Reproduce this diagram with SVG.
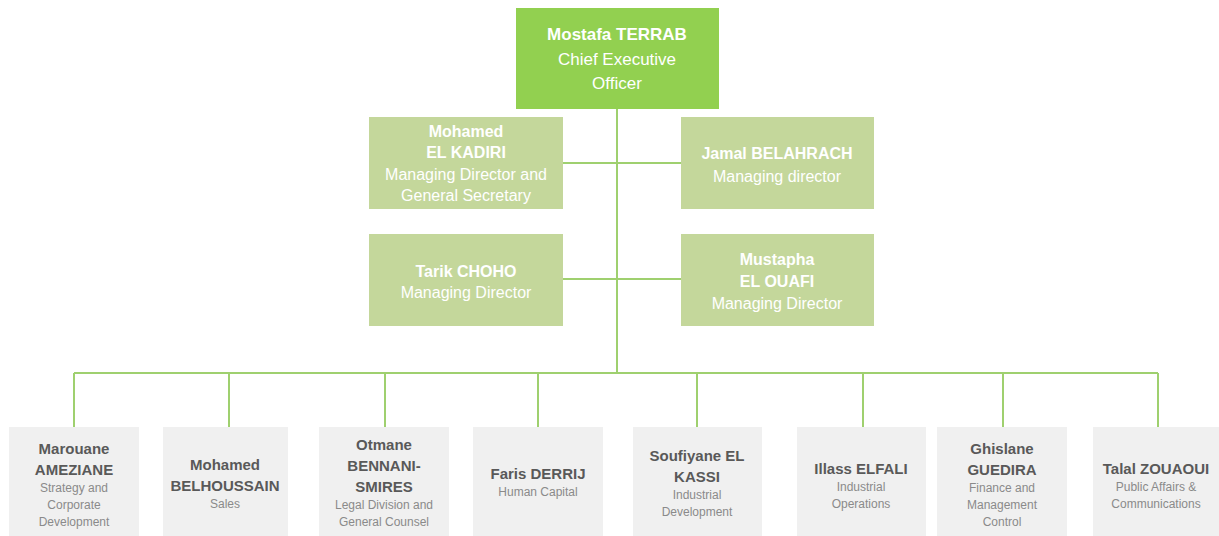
<svg xmlns="http://www.w3.org/2000/svg" width="1219" height="536" viewBox="0 0 1219 536">
<style>
.ceo{fill:#92d050}
.md{fill:#c4d79b}
.dep{fill:#f0f0f0}
text{font-family:"Liberation Sans",Arial,sans-serif;text-anchor:middle}
.w{fill:#ffffff}
.wb{fill:#ffffff;font-weight:bold}
.n{fill:#595959;font-weight:bold;font-size:15px}
.r{fill:#8a8a8a;font-size:12px}
.conn{stroke:#9fd06f;stroke-width:2;fill:none}
</style>
<rect width="1219" height="536" fill="#ffffff"/>
<g id="connectors">
<path class="conn" d="M617 109V373"/>
<path class="conn" d="M563 163H681"/>
<path class="conn" d="M563 279H681"/>
<path class="conn" d="M74 373H1158"/>
<path class="conn" d="M74 373V427M229 373V427M385 373V427M538 373V427M697 373V427M863 373V427M1003 373V427M1158 373V427"/>
</g>
<g id="ceo">
<rect class="ceo" x="516" y="8" width="203" height="101"/>
<text class="wb" x="617" y="40" font-size="17">Mostafa TERRAB</text>
<text class="w" x="617" y="65" font-size="17">Chief Executive</text>
<text class="w" x="617" y="89" font-size="17">Officer</text>
</g>
<g id="md-elkadiri">
<rect class="md" x="369" y="117" width="194" height="92"/>
<text class="wb" x="466" y="137" font-size="16">Mohamed</text>
<text class="wb" x="466" y="158" font-size="16">EL KADIRI</text>
<text class="w" x="466" y="180" font-size="16">Managing Director and</text>
<text class="w" x="466" y="201" font-size="16">General Secretary</text>
</g>
<g id="md-belahrach">
<rect class="md" x="681" y="117" width="193" height="92"/>
<text class="wb" x="777" y="159" font-size="16">Jamal BELAHRACH</text>
<text class="w" x="777" y="182" font-size="16">Managing director</text>
</g>
<g id="md-choho">
<rect class="md" x="369" y="234" width="194" height="92"/>
<text class="wb" x="466" y="277" font-size="16">Tarik CHOHO</text>
<text class="w" x="466" y="298" font-size="16">Managing Director</text>
</g>
<g id="md-elouafi">
<rect class="md" x="681" y="234" width="193" height="92"/>
<text class="wb" x="777" y="265" font-size="16">Mustapha</text>
<text class="wb" x="777" y="287" font-size="16">EL OUAFI</text>
<text class="w" x="777" y="309" font-size="16">Managing Director</text>
</g>
<g id="amezziane">
<rect class="dep" x="9" y="427" width="130" height="110"/>
<text class="n" x="74" y="454">Marouane</text>
<text class="n" x="74" y="475">AMEZIANE</text>
<text class="r" x="74" y="492">Strategy and</text>
<text class="r" x="74" y="509">Corporate</text>
<text class="r" x="74" y="526">Development</text>
</g>
<g id="belhoussain">
<rect class="dep" x="163" y="427" width="125" height="110"/>
<text class="n" x="225" y="470">Mohamed</text>
<text class="n" x="225" y="491">BELHOUSSAIN</text>
<text class="r" x="225" y="508">Sales</text>
</g>
<g id="bennani">
<rect class="dep" x="319" y="427" width="130" height="110"/>
<text class="n" x="384" y="450">Otmane</text>
<text class="n" x="384" y="471">BENNANI-</text>
<text class="n" x="384" y="492">SMIRES</text>
<text class="r" x="384" y="509">Legal Division and</text>
<text class="r" x="384" y="526">General Counsel</text>
</g>
<g id="derrij">
<rect class="dep" x="473" y="427" width="130" height="110"/>
<text class="n" x="538" y="479">Faris DERRIJ</text>
<text class="r" x="538" y="496">Human Capital</text>
</g>
<g id="elkassi">
<rect class="dep" x="633" y="427" width="129" height="110"/>
<text class="n" x="697" y="461">Soufiyane EL</text>
<text class="n" x="697" y="482">KASSI</text>
<text class="r" x="697" y="499">Industrial</text>
<text class="r" x="697" y="516">Development</text>
</g>
<g id="elfali">
<rect class="dep" x="797" y="427" width="129" height="110"/>
<text class="n" x="861" y="474">Illass ELFALI</text>
<text class="r" x="861" y="491">Industrial</text>
<text class="r" x="861" y="508">Operations</text>
</g>
<g id="guedira">
<rect class="dep" x="937" y="427" width="130" height="110"/>
<text class="n" x="1002" y="454">Ghislane</text>
<text class="n" x="1002" y="475">GUEDIRA</text>
<text class="r" x="1002" y="492">Finance and</text>
<text class="r" x="1002" y="509">Management</text>
<text class="r" x="1002" y="526">Control</text>
</g>
<g id="zouaoui">
<rect class="dep" x="1093" y="427" width="126" height="110"/>
<text class="n" x="1156" y="474">Talal ZOUAOUI</text>
<text class="r" x="1156" y="491">Public Affairs &amp;</text>
<text class="r" x="1156" y="508">Communications</text>
</g>
</svg>
